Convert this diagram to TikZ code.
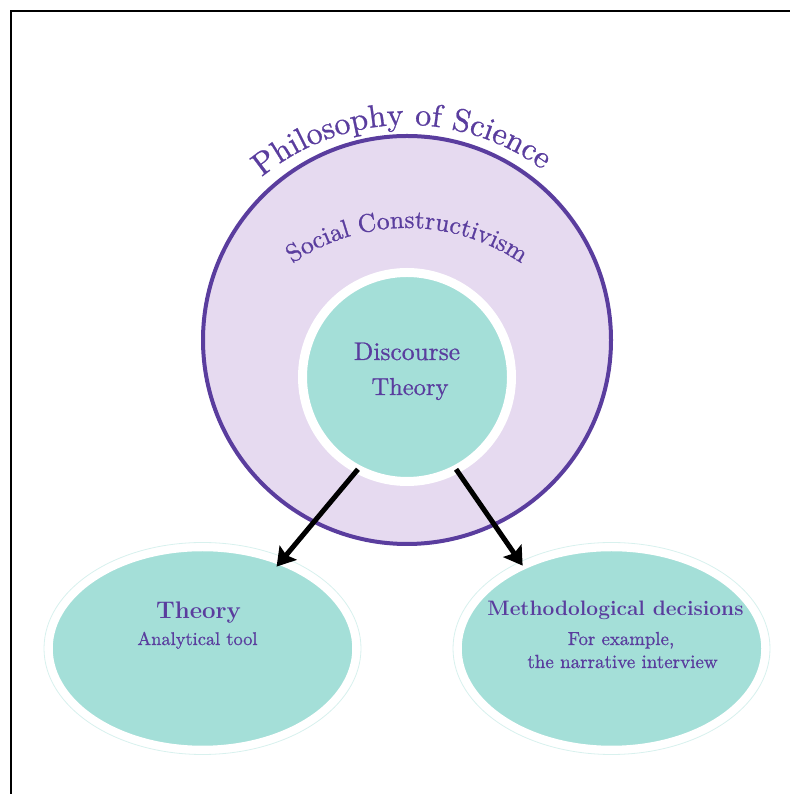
\documentclass[tikz,border=0pt]{standalone}
\usepackage{fontspec}
\newfontfamily\medfont{lmroman10-regular.otf}[FakeBold=0.8]
\usetikzlibrary{arrows.meta,decorations.text,shapes.geometric}
\definecolor{purp}{HTML}{5A3D9E}
\definecolor{lav}{HTML}{E6DAF0}
\definecolor{teal1}{HTML}{A4DFD8}
\definecolor{faint}{HTML}{D8F1EE}
\begin{document}
\begin{tikzpicture}[x=1pt,y=1pt,
  txt/.style={text=purp, inner sep=0pt, anchor=base},
  arr/.style={line width=5pt, draw=black, -{Stealth[length=18pt,width=22pt,inset=3pt]}},
  oval/.style={ellipse, fill=teal1, draw=white, line width=8.5pt, minimum width=308pt, minimum height=203pt, inner sep=0pt, outer sep=0pt},
  rim/.style={draw=faint, line width=0.8pt}]
\useasboundingbox (0,0) rectangle (790,794);
\draw[line width=2.2pt, black] (11,0) -- (11,783) -- (790,783);

% outer circle: social constructivism
\node[circle, fill=lav, draw=purp, line width=4pt, minimum size=408pt, inner sep=0pt] (sc) at (407,454) {};
% inner circle: discourse theory
\node[circle, fill=teal1, draw=white, line width=9pt, minimum size=209pt, inner sep=0pt, outer sep=0pt] (disc) at (407,417) {};
\node[txt, font=\medfont\fontsize{25.5}{30}\selectfont] (d1) at (407,434) {Discourse};
\node[txt, font=\medfont\fontsize{24.5}{30}\selectfont] (d2) at (410,399) {Theory};

% curved titles
\path[decorate, decoration={text along path, text align=center, text color=purp,
  text={|\medfont\fontsize{32}{38}\selectfont|Philosophy of Science}}]
  ([shift={(161.5:228)}]407,441) arc[start angle=161.5, end angle=21.5, radius=228];
\path[decorate, decoration={text along path, text align=center, text color=purp,
  text={|\medfont\fontsize{25.5}{31}\selectfont|Social Constructivism}}]
  ([shift={(150:202)}]407,364) arc[start angle=150, end angle=30, radius=202];

% bottom ovals
\node[oval] (theory) at (202.5,145.5) {};
\node[oval] (method) at (611.5,145.5) {};
\draw[rim] (theory.center) ellipse [x radius=158.5, y radius=106];
\draw[rim] (method.center) ellipse [x radius=158.5, y radius=106];

\node[txt, font=\bfseries\fontsize{24}{28}\selectfont] (t1) at (198.5,175) {Theory};
\node[txt, font=\medfont\fontsize{18.4}{22}\selectfont] (t2) at (197.5,149) {Analytical tool};
\node[txt, font=\bfseries\fontsize{20.9}{24}\selectfont] (m1) at (615.5,178) {Methodological decisions};
\node[txt, font=\medfont\fontsize{18.8}{22}\selectfont] (m2) at (621,149) {For example,};
\node[txt, font=\medfont\fontsize{19}{22}\selectfont] (m3) at (622.5,126) {the narrative interview};

% arrows
\draw[arr, shorten >=-7pt] (disc.242) -- (theory.48);
\draw[arr] (disc.298) -- (method.137);
\end{tikzpicture}
\end{document}
